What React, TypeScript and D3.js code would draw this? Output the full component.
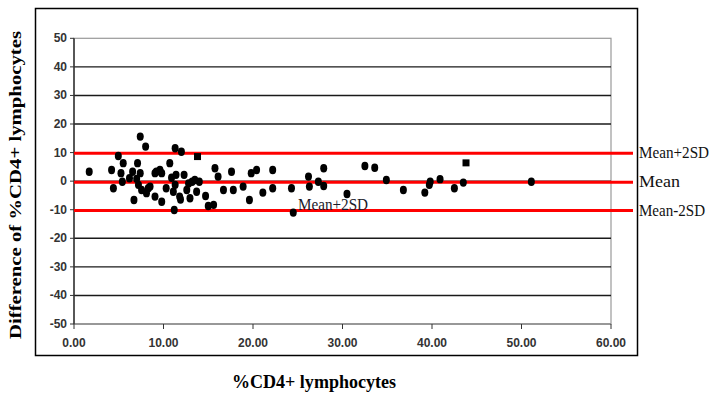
import React from "react";
import * as d3 from "d3";

const xTicks = [0, 10, 20, 30, 40, 50, 60];
const yTicks = [50, 40, 30, 20, 10, 0, -10, -20, -30, -40, -50];
const gridValues = [40, 30, 20, 10, 0, -10, -20, -30, -40];

const dotX = [1.7, 4.2, 4.4, 4.95, 5.25, 5.4, 5.5, 6.55, 6.7, 7.1, 7.2, 7.4, 7.4, 7.55, 8.0, 8.1, 8.3, 8.5, 9.05, 9.05, 9.2, 9.6, 9.8, 9.8, 10.3, 10.7, 11.1, 11.2, 11.3, 11.3, 11.4, 11.8, 11.9, 12.0, 12.3, 12.6, 12.96, 13.2, 13.5, 13.7, 14.0, 14.7, 15.0, 15.6, 15.75, 16.1, 16.7, 17.6, 17.8, 18.9, 19.6, 19.8, 20.4, 21.1, 22.2, 22.2, 24.3, 24.5, 26.2, 26.3, 27.3, 27.9, 27.9, 30.5, 32.5, 33.6, 34.9, 36.8, 39.2, 39.7, 39.8, 40.9, 42.5, 43.5, 51.1, 7.0, 10.9, 12.8, 6.2];
const dotY = [3.3, 3.9, -2.5, 8.8, 2.8, -0.2, 6.3, 3.3, -6.6, 6.3, -1.3, 15.6, 2.8, -3.1, 12.1, -4.2, -2.5, -1.9, -5.4, 2.8, 3.3, 3.9, -7.2, 2.8, -2.5, 6.3, -3.7, -10.1, 11.5, -1.3, 2.2, -5.4, -6.4, 10.3, 2.2, -3.1, -6.0, -0.2, 0.4, -3.7, -0.2, -5.2, -8.7, -8.3, 4.5, 1.6, -3.1, 3.3, -3.1, -1.9, -6.6, 2.8, 3.9, -4.0, 3.9, -2.5, -2.5, -11.0, 1.6, -1.9, -0.2, 4.5, -1.7, -4.5, 5.3, 4.7, 0.4, -3.1, -4.0, -1.3, -0.2, 0.7, -2.5, -0.5, -0.2, 0.8, 1.2, -0.8, 1.0];

const squareX = [13.8, 43.8];
const squareY = [8.6, 6.4];

const refValues = [9.8, -0.4, -10.3];
const refLabels = ["Mean+2SD", "Mean", "Mean-2SD"];
const refLabelWidths = [70, 41, 66];

const xTitle = "%CD4+ lymphocytes";
const yTitle = "Difference of %CD4+ lymphocytes";
const noteLabel = "Mean+2SD";

export default function App() {
  const W = 724;
  const H = 396;
  const left = 74;
  const right = 611;
  const top = 38.3;
  const bottom = 324;
  const x = d3.scaleLinear().domain([0, 60]).range([left, right]);
  const y = d3.scaleLinear().domain([-50, 50]).range([bottom, top]);
  const tickFont = "'Liberation Sans Narrow', 'Liberation Sans', Arial, sans-serif";
  const serif = "'Liberation Serif', 'Times New Roman', serif";

  return (
    <svg
      width={W}
      height={H}
      style={{ position: "fixed", left: 0, top: 0, background: "#fff" }}
    >
      <rect x={0} y={0} width={W} height={H} fill="#fff" />
      <rect x={35.5} y={8.5} width={602} height={347} fill="none" stroke="#000" strokeWidth={1.5} />

      <rect x={left} y={top} width={right - left} height={bottom - top} fill="none" stroke="#999" strokeWidth={1.2} />

      {gridValues.map((v) => (
        <line key={"g" + v} x1={left} x2={right} y1={y(v)} y2={y(v)} stroke="#1a1a1a" strokeWidth={1.4} />
      ))}

      <line x1={left} x2={right} y1={bottom} y2={bottom} stroke="#8a8a8a" strokeWidth={1.5} />
      {xTicks.map((t) => (
        <g key={"xt" + t}>
          <line x1={x(t)} x2={x(t)} y1={bottom} y2={bottom + 5} stroke="#333" strokeWidth={1} />
          <text
            x={x(t)}
            y={bottom + 23}
            textAnchor="middle"
            fontFamily={tickFont}
            fontWeight="bold"
            fontSize={12}
            fill="#333"
          >
            {t.toFixed(2)}
          </text>
        </g>
      ))}

      <line x1={left} x2={left} y1={top} y2={bottom} stroke="#333" strokeWidth={1.5} />
      {yTicks.map((t) => (
        <g key={"yt" + t}>
          <line x1={left - 4} x2={left} y1={y(t)} y2={y(t)} stroke="#333" strokeWidth={1} />
          <text
            x={left - 7}
            y={y(t) + 4}
            textAnchor="end"
            fontFamily={tickFont}
            fontWeight="bold"
            fontSize={12}
            fill="#333"
          >
            {t}
          </text>
        </g>
      ))}

      {refValues.map((v, i) => (
        <line key={"r" + i} x1={left} x2={633} y1={y(v)} y2={y(v)} stroke="#ff0000" strokeWidth={3} />
      ))}
      {refValues.map((v, i) => (
        <text
          key={"rl" + i}
          x={639}
          y={y(v) + 5}
          fontFamily={serif}
          fontSize={16}
          fill="#111"
          textLength={refLabelWidths[i]}
          lengthAdjust="spacingAndGlyphs"
        >
          {refLabels[i]}
        </text>
      ))}

      {dotX.map((v, i) => (
        <ellipse key={"d" + i} cx={x(v)} cy={y(dotY[i])} rx={3.5} ry={4.2} fill="#000" />
      ))}
      {squareX.map((v, i) => (
        <rect key={"s" + i} x={x(v) - 3.5} y={y(squareY[i]) - 3.5} width={7} height={7} fill="#000" />
      ))}

      <text
        x={298}
        y={210}
        fontFamily={serif}
        fontSize={16}
        fill="#1a1a2a"
        textLength={70}
        lengthAdjust="spacingAndGlyphs"
      >
        {noteLabel}
      </text>

      <text
        x={314}
        y={388}
        textAnchor="middle"
        fontFamily={serif}
        fontWeight="bold"
        fontSize={18}
        fill="#000"
        textLength={164}
        lengthAdjust="spacingAndGlyphs"
      >
        {xTitle}
      </text>
      <text
        transform={`translate(21, ${185}) rotate(-90)`}
        textAnchor="middle"
        fontFamily={serif}
        fontWeight="bold"
        fontSize={17}
        fill="#000"
        textLength={308}
        lengthAdjust="spacingAndGlyphs"
      >
        {yTitle}
      </text>
    </svg>
  );
}
